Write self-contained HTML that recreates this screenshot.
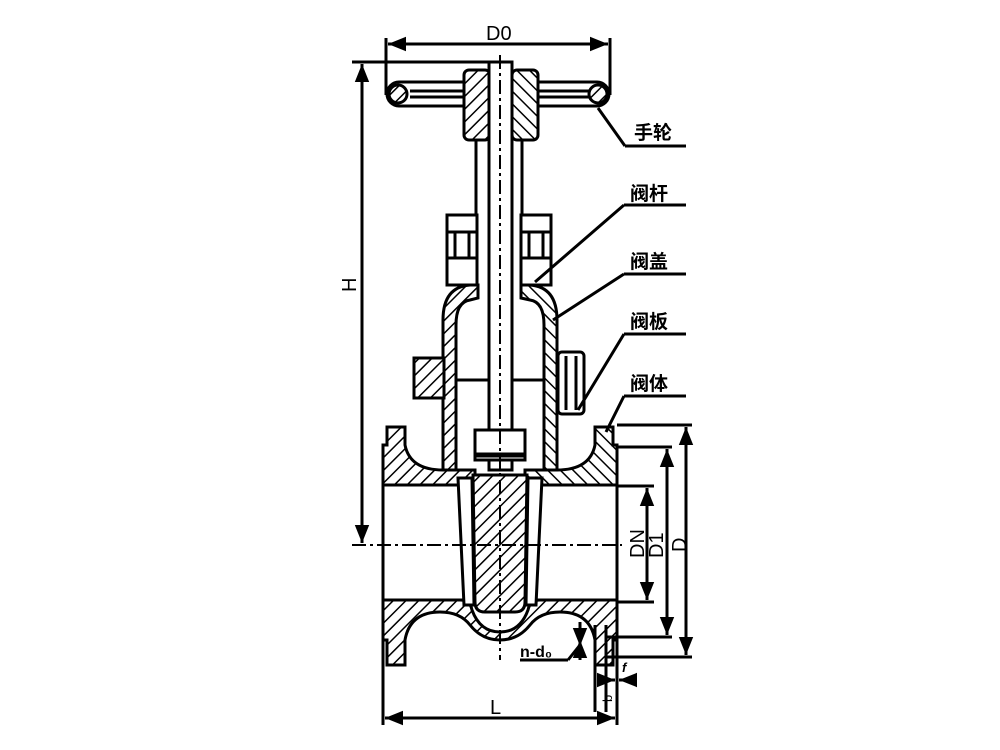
<!DOCTYPE html>
<html><head><meta charset="utf-8"><style>
html,body{margin:0;padding:0;background:#fff;}
svg{display:block}
text{font-family:"Liberation Sans","Noto Sans CJK SC",sans-serif;fill:#000}
</style></head><body>
<svg width="1000" height="750" viewBox="0 0 1000 750" xmlns="http://www.w3.org/2000/svg">
<defs>
<pattern id="h" patternUnits="userSpaceOnUse" width="9" height="9" patternTransform="rotate(45)">
<rect width="9" height="9" fill="#fff"/><line x1="0" y1="0" x2="0" y2="9" stroke="#000" stroke-width="3"/>
</pattern>
<pattern id="h2" patternUnits="userSpaceOnUse" width="9" height="9" patternTransform="rotate(-45)">
<rect width="9" height="9" fill="#fff"/><line x1="0" y1="0" x2="0" y2="9" stroke="#000" stroke-width="3"/>
</pattern>
<marker id="a" viewBox="0 0 10 10" refX="10" refY="5" markerWidth="6" markerHeight="6" orient="auto-start-reverse"><path d="M0,1 L10,5 L0,9z" fill="#000"/></marker>
</defs>
<g stroke="#000" stroke-width="3" fill="none">
<line x1="386" y1="38" x2="386" y2="95"/><line x1="610" y1="38" x2="610" y2="95"/>
<line x1="388" y1="44" x2="608" y2="44" marker-start="url(#a)" marker-end="url(#a)"/>
<line x1="352" y1="62" x2="500" y2="62"/>
<line x1="362" y1="64" x2="362" y2="543" marker-start="url(#a)" marker-end="url(#a)"/>
<rect x="387" y="82" width="222" height="24" rx="12" fill="#fff"/>
<line x1="410" y1="91" x2="465" y2="91"/><line x1="410" y1="97" x2="465" y2="97"/>
<line x1="532" y1="91" x2="590" y2="91"/><line x1="532" y1="97" x2="590" y2="97"/>
<circle cx="398" cy="94" r="9" fill="url(#h)"/><circle cx="598" cy="94" r="9" fill="url(#h)"/>
<rect x="464" y="70" width="26" height="70" rx="5" fill="url(#h)"/>
<rect x="512" y="70" width="26" height="70" rx="5" fill="url(#h2)"/>
<line x1="476" y1="140" x2="476" y2="230"/><line x1="522" y1="140" x2="522" y2="230"/>
<rect x="447" y="215" width="30" height="70" fill="#fff"/>
<line x1="447" y1="232" x2="477" y2="232"/><line x1="447" y1="258" x2="477" y2="258"/>
<line x1="455" y1="232" x2="455" y2="258"/><line x1="469" y1="232" x2="469" y2="258"/>
<rect x="521" y="215" width="30" height="70" fill="#fff"/>
<line x1="521" y1="232" x2="551" y2="232"/><line x1="521" y1="258" x2="551" y2="258"/>
<line x1="529" y1="232" x2="529" y2="258"/><line x1="543" y1="232" x2="543" y2="258"/>
<path d="M443,470 L443,320 Q443,287 470,285 L478,285 L478,298 L470,300 Q456,302 456,325 L456,470 Z" fill="url(#h)"/>
<path d="M557,470 L557,320 Q557,287 530,285 L521,285 L521,298 L530,300 Q544,302 544,325 L544,470 Z" fill="url(#h2)"/>
<rect x="414" y="358" width="30" height="40" fill="url(#h)"/>
<line x1="456" y1="380" x2="544" y2="380"/>
<rect x="558" y="352" width="26" height="62" rx="4" fill="#fff"/>
<line x1="566" y1="356" x2="566" y2="410"/><line x1="576" y1="356" x2="576" y2="410"/>
<rect x="489" y="62" width="23" height="408" fill="#fff"/>
<rect x="475" y="430" width="50" height="30" fill="#fff"/>
<line x1="475" y1="455" x2="525" y2="455" stroke-width="5"/>
<path d="M383,485 L383,445 L387,445 L387,427 L405,427 L405,445 Q410,470 443,470 L475,470 L475,485 Z" fill="url(#h)"/>
<path d="M617,485 L617,445 L613,445 L613,427 L595,427 L595,445 Q590,470 557,470 L525,470 L525,485 Z" fill="url(#h2)"/>
<path d="M383,600 L460,600 Q470,600 472,610 Q480,632 500,632 Q520,632 528,610 Q530,600 540,600 L617,600 L617,640 L613,640 L613,665 L595,665 L595,640 Q590,612 560,612 Q540,612 530,625 Q518,640 500,640 Q482,640 470,625 Q460,612 440,612 Q410,612 405,640 L405,665 L387,665 L387,640 L383,640 Z" fill="url(#h)"/>
<line x1="383" y1="485" x2="617" y2="485"/><line x1="383" y1="600" x2="617" y2="600"/>
<line x1="383" y1="445" x2="383" y2="725"/><line x1="617" y1="445" x2="617" y2="725"/>
<path d="M458,478 L472,478 L474,605 L464,605 Z" fill="#fff"/>
<path d="M542,478 L528,478 L526,605 L536,605 Z" fill="#fff"/>
<path d="M473,475 L527,475 L525,602 Q525,612 515,612 L485,612 Q475,612 475,602 Z" fill="url(#h)"/>
<line x1="500" y1="55" x2="500" y2="660" stroke-width="2" stroke-dasharray="14,4,3,4"/>
<line x1="352" y1="545" x2="622" y2="545" stroke-width="2" stroke-dasharray="14,4,3,4"/>
<line x1="617" y1="425" x2="692" y2="425"/><line x1="617" y1="447" x2="672" y2="447"/>
<line x1="617" y1="486" x2="654" y2="486"/><line x1="617" y1="602" x2="654" y2="602"/>
<line x1="606" y1="637" x2="672" y2="637"/><line x1="606" y1="657" x2="692" y2="657"/>
<line x1="686" y1="427" x2="686" y2="655" marker-start="url(#a)" marker-end="url(#a)"/>
<line x1="667" y1="449" x2="667" y2="635" marker-start="url(#a)" marker-end="url(#a)"/>
<line x1="647" y1="488" x2="647" y2="600" marker-start="url(#a)" marker-end="url(#a)"/>
<line x1="595" y1="625" x2="595" y2="712"/><line x1="606" y1="625" x2="606" y2="712"/>
<line x1="580" y1="622" x2="580" y2="646" marker-end="url(#a)"/>
<line x1="580" y1="660" x2="580" y2="640" marker-end="url(#a)"/>
<line x1="520" y1="660" x2="568" y2="660"/><line x1="568" y1="660" x2="580" y2="645"/>
<line x1="600" y1="680" x2="615" y2="680" marker-end="url(#a)"/><line x1="628" y1="680" x2="619" y2="680" marker-end="url(#a)"/>
<line x1="385" y1="718" x2="615" y2="718" marker-start="url(#a)" marker-end="url(#a)"/>
<line x1="598" y1="108" x2="625" y2="146"/><line x1="625" y1="146" x2="686" y2="146"/>
<line x1="535" y1="282" x2="624" y2="205"/><line x1="624" y1="205" x2="686" y2="205"/>
<line x1="553" y1="320" x2="624" y2="274"/><line x1="624" y1="274" x2="686" y2="274"/>
<line x1="578" y1="410" x2="624" y2="334"/><line x1="624" y1="334" x2="686" y2="334"/>
<line x1="606" y1="432" x2="624" y2="396"/><line x1="624" y1="396" x2="686" y2="396"/>
</g>
<g font-size="19" font-weight="bold">
<text x="486" y="40" font-size="20" font-weight="normal">D0</text>
<text x="634" y="139">手轮</text>
<text x="630" y="200">阀杆</text>
<text x="630" y="268">阀盖</text>
<text x="630" y="328">阀板</text>
<text x="630" y="390">阀体</text>
<text x="520" y="657" font-size="16">n-d₀</text>
<text x="622" y="672" font-size="13" font-style="italic">f</text>
<text x="490" y="714" font-size="20" font-weight="normal">L</text>
</g>
<g font-size="20">
<text transform="translate(356,292) rotate(-90)">H</text>
<text transform="translate(644,558) rotate(-90)">DN</text>
<text transform="translate(663,558) rotate(-90)">D1</text>
<text transform="translate(686,552) rotate(-90)">D</text>
<text transform="translate(612,702) rotate(-90)" font-size="13">b</text>
</g>
</svg>
</body></html>
